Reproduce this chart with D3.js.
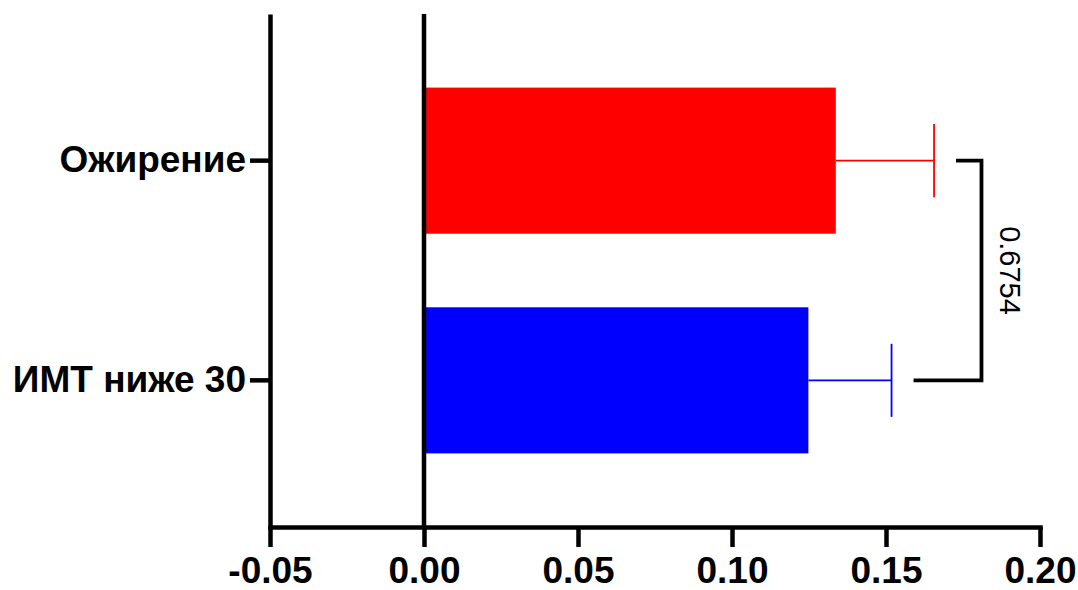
<!DOCTYPE html>
<html lang="ru">
<head>
    <meta charset="UTF-8">
    <title>Ожирение vs ИМТ ниже 30</title>
    <script src="https://d3js.org/d3.v7.min.js"></script>
    <style>
        body {
            margin: 0;
            background: #fff;
        }

        svg {
            display: block;
            font-family: "Liberation Sans", Arial, sans-serif;
        }

        .axis path,
        .axis line {
            stroke: #000;
            stroke-width: 4.5px;
        }

        .axis text {
            font-weight: bold;
            fill: #000;
        }
    </style>
</head>
<body>
    <svg id="chart" width="1078" height="590"></svg>
    <script>
        // Data
        const categories = ["Ожирение", "ИМТ ниже 30"];
        const means = [0.1337, 0.1248];
        const sems = [0.0319, 0.0270];
        const barColors = ["#ff0000", "#0000ff"];
        const xTicks = [-0.05, 0.00, 0.05, 0.10, 0.15, 0.20];
        const pValue = "0.6754";

        const svg = d3.select("#chart");

        // Plot area in pixels
        const plot = { left: 270, right: 1040, top: 14, bottom: 527 };

        const x = d3.scaleLinear()
            .domain([-0.05, 0.20])
            .range([plot.left, plot.right]);

        const y = d3.scaleBand()
            .domain(categories)
            .range([plot.top, plot.bottom])
            .padding(0.335);

        const rows = categories.map((c, i) => ({
            name: c, mean: means[i], sem: sems[i], color: barColors[i]
        }));

        // Bars
        svg.selectAll(".bar")
            .data(rows)
            .enter()
            .append("rect")
            .attr("class", "bar")
            .attr("x", x(0))
            .attr("y", d => y(d.name))
            .attr("width", d => x(d.mean) - x(0))
            .attr("height", y.bandwidth())
            .attr("fill", d => d.color);

        // Error bars (upper side only)
        const capHalf = y.bandwidth() * 0.25;
        const err = svg.selectAll(".err")
            .data(rows)
            .enter()
            .append("g")
            .attr("class", "err")
            .attr("stroke", d => d.color)
            .attr("stroke-width", 1.8);

        err.append("line")
            .attr("x1", d => x(d.mean))
            .attr("x2", d => x(d.mean + d.sem))
            .attr("y1", d => y(d.name) + y.bandwidth() / 2)
            .attr("y2", d => y(d.name) + y.bandwidth() / 2);

        err.append("line")
            .attr("x1", d => x(d.mean + d.sem))
            .attr("x2", d => x(d.mean + d.sem))
            .attr("y1", d => y(d.name) + y.bandwidth() / 2 - capHalf)
            .attr("y2", d => y(d.name) + y.bandwidth() / 2 + capHalf);

        // Vertical line at zero
        svg.append("line")
            .attr("x1", x(0))
            .attr("x2", x(0))
            .attr("y1", plot.top)
            .attr("y2", plot.bottom)
            .attr("stroke", "#000")
            .attr("stroke-width", 4.5);

        // X axis
        const fmt = d3.format(".2f");
        const xAxis = svg.append("g")
            .attr("class", "axis")
            .attr("transform", `translate(0,${plot.bottom})`)
            .call(d3.axisBottom(x)
                .tickValues(xTicks)
                .tickSize(20)
                .tickSizeOuter(0)
                .tickPadding(10)
                .tickFormat(d => fmt(d).replace("\u2212", "-")));
        xAxis.selectAll("text")
            .style("font-size", "37px")
            .attr("dy", "0.71em");
        xAxis.select(".domain").attr("stroke-linecap", "square");

        // Y axis
        const yAxis = svg.append("g")
            .attr("class", "axis")
            .attr("transform", `translate(${plot.left},0)`)
            .call(d3.axisLeft(y)
                .tickSize(20)
                .tickSizeOuter(0)
                .tickPadding(4));
        yAxis.selectAll("text")
            .style("font-size", "37px");

        // Significance bracket
        const yA = y(categories[0]) + y.bandwidth() / 2;
        const yB = y(categories[1]) + y.bandwidth() / 2;
        const xV = x(0.181);
        const gap = 22;
        svg.append("path")
            .attr("d", `M${x(means[0] + sems[0]) + gap},${yA}H${xV}V${yB}H${x(means[1] + sems[1]) + gap}`)
            .attr("fill", "none")
            .attr("stroke", "#000")
            .attr("stroke-width", 3.8);

        svg.append("text")
            .attr("transform", `translate(${xV + 19},${(yA + yB) / 2}) rotate(90)`)
            .attr("text-anchor", "middle")
            .style("font-size", "29px")
            .text(pValue);
    </script>
</body>
</html>
